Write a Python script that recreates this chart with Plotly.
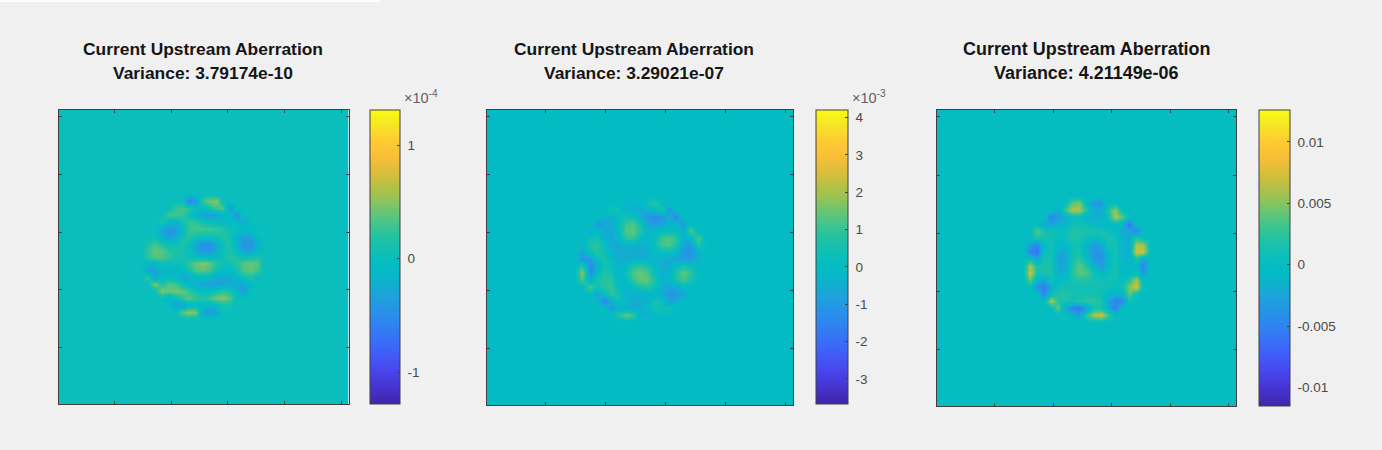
import numpy as np
import plotly.graph_objects as go

W, H = 1382, 450

# Disc samples, top row first, in multiples of the plot's exponent (6-unit pixel grid)
DISC_A = [  # x 1e-4
 [0]*19,
 [0,0,0,0,0,0,0,-.6,-.45,.25,.45,.5,0,0,0,0,0,0,0],
 [0,0,0,0,0,.25,.3,.2,0,-.05,.1,.3,.35,-.4,0,0,0,0,0],
 [0,0,0,0,.3,.3,.25,.05,-.2,-.35,-.4,-.35,-.2,-.1,-.5,0,0,0,0],
 [0,0,0,.15,-.1,-.2,.05,.25,.25,.1,0,-.05,-.05,-.05,-.05,-.3,0,0,0],
 [0,0,0,-.3,-.45,-.4,-.05,.25,.3,.3,.3,.25,.2,.05,0,-.05,-.05,0,0],
 [0,0,.05,-.25,-.4,-.3,.05,.25,.1,.05,.05,.1,.2,.1,-.2,-.35,-.3,0,0],
 [0,.1,.25,.15,-.05,0,.15,.05,-.25,-.45,-.45,-.25,.05,.15,-.2,-.45,-.45,-.2,0],
 [0,.25,.4,.35,.2,.15,.1,0,-.3,-.45,-.45,-.25,.05,.15,-.1,-.35,-.4,-.1,0],
 [0,.2,.35,.35,.25,.1,.1,.05,0,-.1,-.1,-.05,.05,.2,.15,.05,.1,.15,0],
 [0,-.15,-.1,.05,.05,0,.05,.25,.4,.5,.4,.2,.05,.05,.2,.35,.4,.35,0],
 [0,-.35,-.35,-.15,-.1,-.15,-.05,.1,.35,.4,.3,.05,-.05,-.05,.1,.35,.4,.3,0],
 [0,.25,-.3,-.1,-.05,-.15,-.3,-.25,-.1,-.05,-.1,-.25,-.25,-.25,-.1,.05,.15,0,0],
 [0,0,.5,.15,.35,.3,.05,-.1,-.25,-.3,-.35,-.35,-.3,-.25,-.3,-.3,-.1,0,0],
 [0,0,0,.5,.4,.45,.4,.25,.05,-.05,-.05,.1,.2,.15,-.15,-.4,0,0,0],
 [0,0,0,0,-.2,0,.25,.35,.25,.15,.3,.45,.5,.35,0,0,0,0,0],
 [0,0,0,0,0,-.35,-.3,-.15,-.05,-.1,-.15,-.05,.1,.1,0,0,0,0,0],
 [0,0,0,0,0,0,.35,.55,.45,-.3,-.4,-.3,0,0,0,0,0,0,0],
 [0]*19,
]
DISC_B = [  # x 1e-3
 [0]*19,
 [0,0,0,0,0,0,0,-.2,-.4,-.3,.4,.9,0,0,0,0,0,0,0],
 [0,0,0,0,0,.5,.3,-.2,-.5,-.6,-.4,0,.7,-1.2,0,0,0,0,0],
 [0,0,0,0,-.5,-.4,.1,.5,.4,-.4,-1.1,-1.4,-1.1,-.4,-1.5,0,0,0,0],
 [0,0,0,-1,-.7,-.6,.1,1.1,1.2,.5,-.6,-.9,-.7,-.4,-.2,-1,0,0,0],
 [0,0,-.6,0,-.6,-.7,.1,1.3,1.4,.7,-.3,-.3,.1,.2,0,-.5,1.3,0,0],
 [0,0,.4,.5,-.4,-.7,-.2,.8,1,.2,-.4,.2,1.1,1.3,.9,-.5,-.2,1.2,0],
 [0,-.4,.7,.9,.2,-.6,-.6,-.4,-.4,-.5,-.4,.3,1.1,1.2,.7,-.7,-1.1,.8,0],
 [0,-.7,.4,.8,.4,-.4,-.6,-.6,-.6,-.6,-.5,-.1,.3,.3,-.2,-1,-1.2,-.5,0],
 [0,-1.2,-.9,.2,.6,.1,-.5,-.5,-.4,-.4,-.4,-.4,-.5,-.6,-.7,-.9,-1,-.4,0],
 [0,.8,-1.5,-.4,.5,.3,-.4,0,.8,1,.7,0,-.5,-.5,.2,.6,.3,0,0],
 [0,1.8,-1.3,0,.7,.6,-.4,.3,1.2,1.5,1.2,.3,-.5,-.3,.7,1.4,1,0,0],
 [0,1.2,-.4,.6,.9,.8,-.3,.1,1,1.4,1.4,.7,-.4,-.3,.6,1.1,.6,0,0],
 [0,0,1.3,.4,.8,1,.2,-.4,.1,.6,.8,.4,-.5,-.7,-.5,-.2,-.1,0,0],
 [0,0,0,-.9,0,1,.5,-.4,-.5,-.4,-.3,-.3,-.6,-1,-1,-.7,0,0,0],
 [0,0,0,0,-1.6,-.5,.3,-.3,-.5,-.5,-.3,.5,.3,-.8,-.6,0,0,0,0],
 [0,0,0,0,0,-.9,-.4,-.4,-.6,-.5,-.2,.6,.4,.5,0,0,0,0,0],
 [0,0,0,0,0,0,.8,1.5,1.1,-.5,-.5,-.3,.1,0,0,0,0,0,0],
 [0]*19,
]
DISC_C = [  # x 1e-3
 [0]*19,
 [0,0,0,0,0,0,0,4,5,-1,-3.5,-3.5,0,0,0,0,0,0,0],
 [0,0,0,0,0,-2,3,6,6,1.5,-2,-2,2,5.5,0,0,0,0,0],
 [0,0,0,0,-5,-3,-2,0,.5,-1.5,-2,-1.5,1,6,4,0,0,0,0],
 [0,0,0,-2,-2.5,-1.8,-.8,.8,1,.5,-.5,-.8,-.5,0,-1,-6,0,0,0],
 [0,0,4,1.5,1.2,.5,.8,1.8,2,1.8,1.8,1.5,.8,-.8,-2,-2.5,-5,0,0],
 [0,0,1.5,1.5,1,0,.5,2,1.5,.5,-.5,.5,1.8,1,-1.5,-2,2.5,0,0],
 [0,-3,-5,0,1,-1,-1,1,1,-1.5,-3.5,-2.5,1,1.2,-1.5,-1.5,6,6,0],
 [0,-5,-6,.5,1,-2.2,-2.2,1,1.5,-1.5,-3.8,-3.5,-.3,1.5,-1.5,-1.5,7,7,0],
 [0,1,-2.5,1.5,1.2,-2.5,-2.5,1.2,2.5,-.3,-3.5,-3.8,-.8,1.5,-1.5,-1.5,1.5,-3,0],
 [0,6,1.5,2,1.5,-2.2,-2.2,2,4,2,-1.5,-3,-.5,1.5,-1.2,-1,-.5,-5,0],
 [0,7,1,1.5,1.5,-1.8,-1.5,2,4,3.5,1,-1,.5,1.5,-.8,-.3,.3,-3,0],
 [0,4,-1.5,-2.5,1,-.5,.3,1.5,2,2,1.2,1,1.2,.8,0,2,6,0,0],
 [0,0,-4,-5.5,-2.5,.8,1,1,1,1,1,1.2,.8,.3,.8,5,7.5,0,0],
 [0,0,0,-5,.5,2,2,1.5,1.2,1.2,1.2,.8,-.8,-1.5,-.8,4,0,0,0],
 [0,0,0,0,6,2,1.5,1,2,2.5,2.5,1.5,-2.5,-5,-5,1,0,0,0],
 [0,0,0,0,0,4,-2.5,-5,-6,-2.5,1.5,1,-1.5,-5,0,0,0,0,0],
 [0,0,0,0,0,0,1,-1,-3,3,6,7,3,0,0,0,0,0,0],
 [0]*19,
]

TITLE_LINE = "Current Upstream Aberration"
VARIANCES = ["Variance: 3.79174e-10", "Variance: 3.29021e-07", "Variance: 4.21149e-06"]
SCALES = [1e-4, 1e-3, 1e-3]
Z_LIMITS = [(-1.28, 1.31), (-3.67, 4.2), (-11.5, 12.6)]
CB_TICKS = [[-1, 0, 1], [-3, -2, -1, 0, 1, 2, 3, 4], [-10, -5, 0, 5, 10]]
CB_LABELS = [["-1", "0", "1"], ["-3", "-2", "-1", "0", "1", "2", "3", "4"],
             ["-0.01", "-0.005", "0", "0.005", "0.01"]]
MULTIPLIERS = ["×10<sup>-4</sup>", "×10<sup>-3</sup>", None]
AXIS_TICKS = [50, 100, 150, 200, 250]
CENTERS = [(127.6, 128.9), (128.5, 127.2), (128.5, 127.6)]

# layout in page pixels: axes left,right,top,bottom; colorbar left,right; title centre, size
AXES_PX = [(58.5, 348.5, 110, 404), (487, 793, 110, 405), (937, 1236, 110, 406)]
CBAR_PX = [(370, 400, 110, 404), (816, 848, 110, 404), (1259, 1290, 110, 406)]
TITLE_PX = [(203.5, 17.4), (633.5, 17.4), (1086.5, 17.95)]
MULT_PX = [(402, 97), (850, 97), None]

PARULA = [
    [0.00, "rgb(62,38,168)"], [0.06, "rgb(71,52,210)"], [0.12, "rgb(72,72,240)"],
    [0.20, "rgb(60,105,250)"], [0.28, "rgb(45,135,240)"], [0.36, "rgb(30,160,220)"],
    [0.43, "rgb(8,183,200)"], [0.47, "rgb(3,188,195)"], [0.50, "rgb(10,190,188)"],
    [0.57, "rgb(35,195,160)"], [0.64, "rgb(90,197,125)"], [0.70, "rgb(150,195,85)"],
    [0.77, "rgb(205,190,60)"], [0.84, "rgb(250,190,55)"], [0.90, "rgb(254,205,50)"],
    [0.95, "rgb(245,230,35)"], [1.00, "rgb(249,251,20)"],
]
INK = "#404040"
STEP = 6
PAD = 13

fig = go.Figure()
annotations = []
for k, disc in enumerate([DISC_A, DISC_B, DISC_C]):
    z = np.pad(np.flipud(np.array(disc, dtype=float)), PAD) * SCALES[k]
    n = z.shape[0]
    offs = (np.arange(n) - (n - 1) / 2) * STEP
    l, r, t, b = AXES_PX[k]
    cl, cr, ct, cb = CBAR_PX[k]
    suffix = "" if k == 0 else str(k + 1)
    zmin, zmax = Z_LIMITS[k]
    fig.add_trace(go.Heatmap(
        z=z, x=CENTERS[k][0] + offs, y=CENTERS[k][1] + offs,
        xaxis="x" + suffix, yaxis="y" + suffix,
        zmin=zmin * SCALES[k], zmax=zmax * SCALES[k], zsmooth="best",
        colorscale=PARULA, hoverinfo="skip",
        colorbar=dict(
            x=cl / W, xanchor="left", xref="paper", y=1 - cb / H, yanchor="bottom", yref="paper",
            lenmode="pixels", len=cb - ct, thicknessmode="pixels", thickness=cr - cl,
            outlinecolor=INK, outlinewidth=1, ticks="inside", ticklen=3, tickcolor=INK,
            tickvals=[v * SCALES[k] for v in CB_TICKS[k]],
            ticktext=["\u00a0" + s for s in CB_LABELS[k]],
            tickfont=dict(family="Liberation Sans", size=13.5, color="#4a4a4a"), xpad=0, ypad=0,
        ),
    ))
    axis = dict(range=[1, 256], tickvals=AXIS_TICKS, showticklabels=False, ticks="inside",
                ticklen=3, tickcolor=INK, showline=True, linecolor=INK, linewidth=1,
                mirror="ticks", showgrid=False, zeroline=False)
    fig.update_layout({
        "xaxis" + suffix: dict(axis, domain=[l / W, r / W], anchor="y" + suffix),
        "yaxis" + suffix: dict(axis, domain=[1 - b / H, 1 - t / H], anchor="x" + suffix),
    })
    cx, fs = TITLE_PX[k]
    for text, py in ((TITLE_LINE, 49.5), (VARIANCES[k], 73)):
        annotations.append(dict(text=text, x=cx / W, y=1 - py / H, xref="paper", yref="paper",
                                xanchor="center", yanchor="middle", showarrow=False,
                                font=dict(family="Liberation Sans", size=fs, color="#151515",
                                          weight="bold")))
    if MULTIPLIERS[k]:
        mx, my = MULT_PX[k]
        annotations.append(dict(text=MULTIPLIERS[k], x=mx / W, y=1 - my / H, xref="paper",
                                yref="paper", xanchor="left", yanchor="middle", showarrow=False,
                                font=dict(family="Liberation Sans", size=14.5, color="#606060")))

fig.update_layout(
    width=W, height=H, autosize=False, margin=dict(l=0, r=0, t=0, b=0),
    paper_bgcolor="#f0f0f0", plot_bgcolor="#f0f0f0", annotations=annotations,
    shapes=[dict(type="rect", xref="paper", yref="paper", x0=0, x1=380 / W, y0=1 - 2 / H, y1=1,
                 fillcolor="white", line_width=0, layer="below")],
)
fig.write_html("out.html", config={"displayModeBar": False},
               post_script="document.body.style.margin='0';")
